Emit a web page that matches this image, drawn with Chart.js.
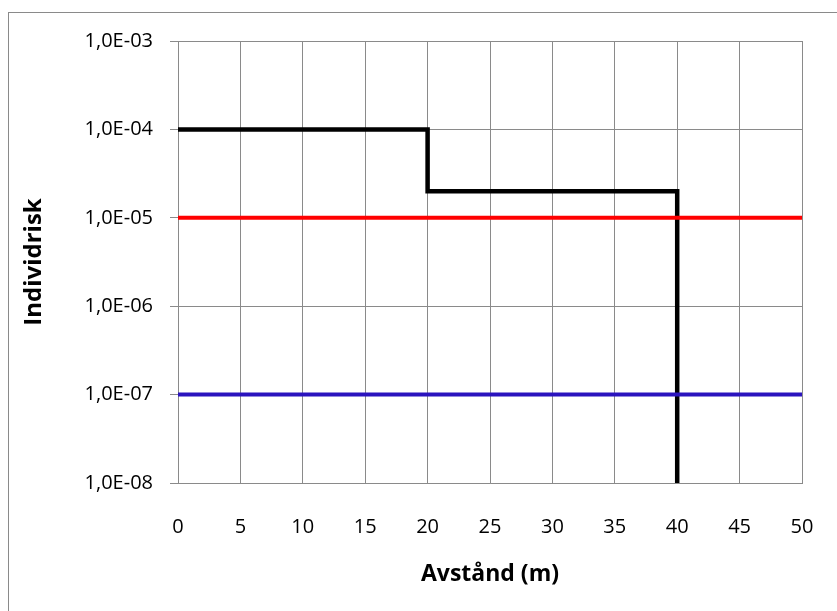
<!DOCTYPE html>
<html>
<head>
<meta charset="utf-8">
<script src="https://cdn.jsdelivr.net/npm/chart.js@4/dist/chart.umd.min.js"></script>
<style>
  html, body { margin: 0; padding: 0; background: #fff; }
  #wrap { position: relative; width: 837px; height: 611px; }
</style>
</head>
<body>
<div id="wrap"><canvas id="risk-chart" width="837" height="611"></canvas></div>
<script>
// Avstånd (m) och individrisk
var stegAvstand = [0, 20, 20, 40, 40];
var stegRisk = [1e-4, 1e-4, 2e-5, 2e-5, 1e-8];

var ovreGrans = [1e-5, 1e-5];   // röd linje
var undreGrans = [1e-7, 1e-7];  // blå linje
var gransAvstand = [0, 50];

var yTicks = [1e-8, 1e-7, 1e-6, 1e-5, 1e-4, 1e-3];

function punkter(xs, ys) {
  return xs.map(function (x, i) { return { x: x, y: ys[i] }; });
}

// formatera som i Excel: 1,0E-04
function excelFormat(v) {
  var exp = Math.round(Math.log10(v));
  var mant = v / Math.pow(10, exp);
  var e = Math.abs(exp);
  return mant.toFixed(1).replace('.', ',') + 'E' + (exp < 0 ? '-' : '+') + (e < 10 ? '0' + e : e);
}

var gridFarg = '#8a8a8a';

var ramPlugin = {
  id: 'ram',
  beforeDraw: function (chart) {
    var ctx = chart.ctx;
    ctx.save();
    ctx.fillStyle = '#fff';
    ctx.fillRect(0, 0, chart.width, chart.height);
    ctx.strokeStyle = gridFarg;
    ctx.lineWidth = 1;
    ctx.strokeRect(8.5, 12.5, 900, 700);
    ctx.restore();
  }
};

var ctx = document.getElementById('risk-chart').getContext('2d');
var chart = new Chart(ctx, {
  type: 'line',
  data: {
    datasets: [{
      label: 'Övre gräns',
      data: punkter(gransAvstand, ovreGrans),
      borderColor: '#ff0000',
      borderWidth: 4,
      pointRadius: 0,
      fill: false
    }, {
      label: 'Undre gräns',
      data: punkter(gransAvstand, undreGrans),
      borderColor: '#2b14be',
      borderWidth: 4,
      pointRadius: 0,
      fill: false
    }, {
      label: 'Individrisk',
      data: punkter(stegAvstand, stegRisk),
      borderColor: '#000000',
      borderWidth: 4.5,
      pointRadius: 0,
      fill: false,
      lineTension: 0
    }]
  },
  plugins: [ramPlugin],
  options: {
    responsive: false,
    animation: false,
    layout: { padding: { left: 0, top: 41, right: 35, bottom: 0 } },
    plugins: {
      legend: { display: false },
      tooltip: { enabled: false }
    },
    scales: {
      x: {
        type: 'linear',
        min: 0,
        max: 50,
        ticks: {
          stepSize: 5,
          color: '#000',
          padding: 32,
          maxRotation: 0,
          font: { family: 'Open Sans', size: 20 }
        },
        grid: { color: gridFarg, lineWidth: 1, drawTicks: false },
        border: { color: gridFarg, width: 1 },
        title: {
          display: true,
          text: 'Avstånd (m)',
          color: '#000',
          padding: { top: 0, bottom: 23 },
          font: { family: 'Open Sans', size: 23, weight: 'bold' }
        },
        afterFit: function (scale) {
          scale.height = 611 - 483;
          scale.paddingLeft = 0;
          scale.paddingRight = 0;
        }
      },
      y: {
        type: 'logarithmic',
        min: 1e-8,
        max: 1e-3,
        afterBuildTicks: function (scale) {
          scale.ticks = yTicks.map(function (v) { return { value: v }; });
        },
        ticks: {
          color: '#000',
          padding: 17,
          font: { family: 'Open Sans', size: 20 },
          callback: function (v) { return excelFormat(v); }
        },
        grid: { color: gridFarg, lineWidth: 1, drawTicks: true, tickLength: 8 },
        border: { color: gridFarg, width: 1 },
        title: {
          display: true,
          text: 'Individrisk',
          color: '#000',
          padding: { top: 20, bottom: 0 },
          font: { family: 'Open Sans', size: 24, weight: 'bold' }
        },
        afterFit: function (scale) { scale.width = 178; }
      }
    }
  }
});
</script>
</body>
</html>
